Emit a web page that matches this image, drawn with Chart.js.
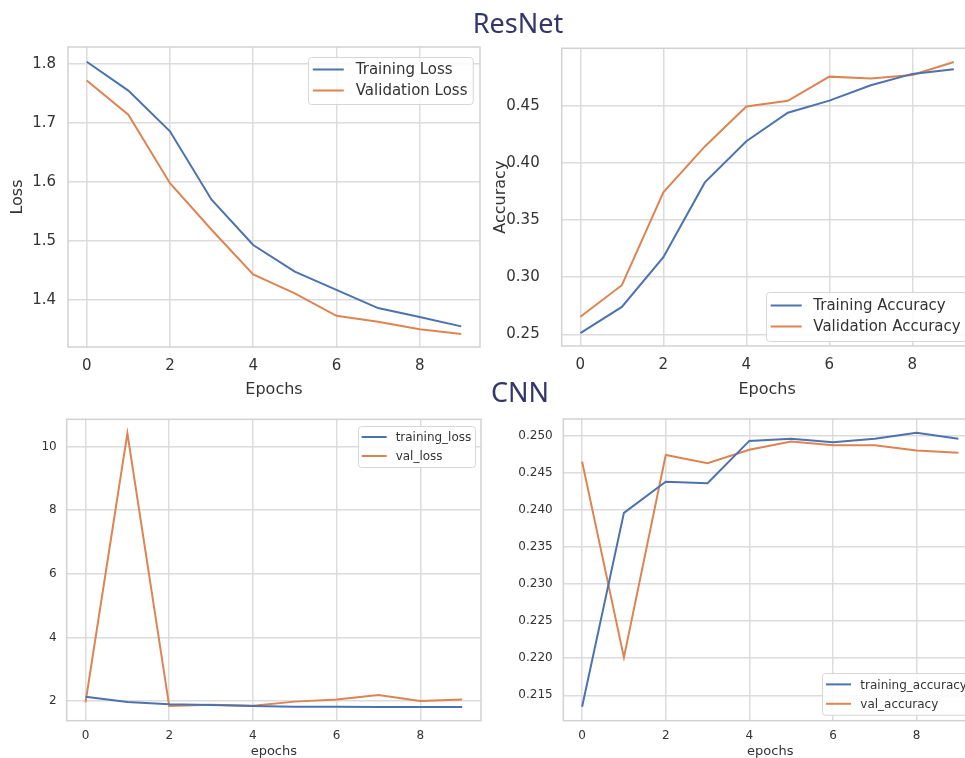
<!DOCTYPE html>
<html><head><meta charset="utf-8">
<script src="https://cdn.jsdelivr.net/npm/chart.js@4.4.0/dist/chart.umd.min.js"></script>
<style>
html,body{margin:0;padding:0;background:#fff;width:965px;height:758px;overflow:hidden;position:relative}
canvas{position:absolute}
.ttl{position:absolute;z-index:3;font-family:"Noto Sans",sans-serif;color:#33356b;font-size:27px;line-height:1;transform:translateX(-50%);white-space:nowrap}
</style></head><body>
<canvas id="c1"></canvas>
<canvas id="c2"></canvas>
<canvas id="c3"></canvas>
<canvas id="c4"></canvas>
<div class="ttl" style="left:518px;top:9px">ResNet</div>
<div class="ttl" style="left:520px;top:378px">CNN</div>
<script>
// ---------- data ----------
const epochs = [0,1,2,3,4,5,6,7,8,9];
const resnetTrainLoss = [1.804,1.755,1.686,1.570,1.493,1.448,1.417,1.386,1.371,1.355];
const resnetValLoss   = [1.772,1.714,1.598,1.519,1.443,1.411,1.373,1.363,1.350,1.342];
const resnetTrainAcc  = [0.251,0.274,0.3175,0.383,0.419,0.444,0.4546,0.468,0.478,0.482];
const resnetValAcc    = [0.2654,0.293,0.3744,0.4145,0.4494,0.4544,0.4756,0.4739,0.477,0.4884];
const cnnTrainLoss    = [2.13,1.97,1.90,1.87,1.84,1.82,1.82,1.81,1.81,1.81];
const cnnValLoss      = [1.96,10.42,1.84,1.88,1.85,1.98,2.05,2.19,2.00,2.05];
const cnnTrainAcc     = [0.21346,0.2396,0.2438,0.2436,0.2493,0.2496,0.2491,0.2496,0.2504,0.2496];
const cnnValAcc       = [0.2465,0.2201,0.2474,0.2463,0.2481,0.2492,0.2487,0.2487,0.2480,0.2477];

const xTicks = [0,2,4,6,8];
const resnetLossTicks = [1.4,1.5,1.6,1.7,1.8];
const resnetAccTicks = [0.25,0.30,0.35,0.40,0.45];
const cnnLossTicks = [2,4,6,8,10];
const cnnAccTicks = [0.215,0.220,0.225,0.230,0.235,0.240,0.245,0.250];

const resnetLossLabels = ['Training Loss','Validation Loss'];
const resnetAccLabels = ['Training Accuracy','Validation Accuracy'];
const cnnLossLabels = ['training_loss','val_loss'];
const cnnAccLabels = ['training_accuracy','val_accuracy'];

// ---------- style ----------
const BLUE = '#4c72b0', ORANGE = '#dd8452';
const GRID = '#dcdcdc', TXT = '#333333', FONT = '"DejaVu Sans", sans-serif';

const framePlugin = {
  id: 'frame',
  beforeDatasetsDraw(chart) {
    const {ctx, chartArea: a} = chart;
    ctx.save();
    ctx.strokeStyle = '#d2d2d2';
    ctx.lineWidth = 1.5;
    ctx.strokeRect(a.left, a.top, a.right - a.left, a.bottom - a.top);
    ctx.restore();
  }
};

const boxLegend = {
  id: 'boxLegend',
  afterDatasetsDraw(chart, args, o) {
    const {ctx, chartArea: a} = chart;
    const ds = chart.data.datasets;
    ctx.save();
    ctx.font = o.fontSize + 'px ' + FONT;
    const tw = Math.max(...ds.map(d => ctx.measureText(d.label).width));
    const w = o.padX * 2 + o.handle + o.gap + tw;
    const h = o.padY * 2 + ds.length * o.rowH;
    const x = (o.left !== undefined) ? a.left + o.left : a.right - o.inset - w;
    const y = o.corner === 'ur' ? a.top + o.insetY : a.bottom - o.insetY - h;
    ctx.beginPath();
    ctx.roundRect(Math.round(x) + 0.5, Math.round(y) + 0.5, w, h, 3);
    ctx.fillStyle = 'rgba(255,255,255,0.85)';
    ctx.fill();
    ctx.strokeStyle = '#d6d6d6';
    ctx.lineWidth = 1;
    ctx.stroke();
    ds.forEach((d, i) => {
      const cy = y + o.padY + o.rowH * (i + 0.5);
      ctx.beginPath();
      ctx.strokeStyle = d.borderColor;
      ctx.lineWidth = 2;
      ctx.moveTo(x + o.padX, cy);
      ctx.lineTo(x + o.padX + o.handle, cy);
      ctx.stroke();
      ctx.fillStyle = TXT;
      ctx.textBaseline = 'middle';
      ctx.textAlign = 'left';
      ctx.fillText(d.label, x + o.padX + o.handle + o.gap, cy + 1);
    });
    ctx.restore();
  }
};

function makeChart(id, pos, area, o) {
  const cv = document.getElementById(id);
  cv.width = pos.w; cv.height = pos.h;
  cv.style.left = pos.x + 'px'; cv.style.top = pos.y + 'px';
  cv.style.width = pos.w + 'px'; cv.style.height = pos.h + 'px';
  const mk = (label, vals, color) => ({
    label, data: epochs.map((e, i) => ({x: e, y: vals[i]})),
    borderColor: color, backgroundColor: color, borderWidth: 2,
    pointRadius: 0, tension: 0, fill: false
  });
  return new Chart(cv, {
    type: 'line',
    data: {datasets: [mk(o.labels[0], o.series[0], BLUE), mk(o.labels[1], o.series[1], ORANGE)]},
    options: {
      responsive: false, animation: false, devicePixelRatio: 1,
      layout: {padding: {left: 0, top: area.t - pos.y, right: pos.x + pos.w - area.r, bottom: 0}},
      plugins: {legend: {display: false}, tooltip: {enabled: false}, boxLegend: o.legend},
      scales: {
        x: {
          type: 'linear', min: -0.45, max: 9.45,
          afterBuildTicks: s => { s.ticks = xTicks.map(v => ({value: v})); },
          afterFit: s => { s.height = pos.y + pos.h - area.b; s.paddingLeft = 0; s.paddingRight = 0; },
          grid: {color: GRID, lineWidth: 1.5, drawTicks: false},
          border: {display: false},
          ticks: {padding: o.xPad, color: TXT, font: {family: FONT, size: o.fs}, maxRotation: 0, callback: v => String(v)},
          title: {display: true, text: o.xTitle, color: TXT, font: {family: FONT, size: o.tfs}, padding: {top: 0, bottom: o.xTitlePad}}
        },
        y: {
          type: 'linear', min: o.yMin, max: o.yMax,
          afterBuildTicks: s => { s.ticks = o.yTicks.map(v => ({value: v})); },
          afterFit: s => { s.width = area.l - pos.x; s.paddingTop = 0; s.paddingBottom = 0; },
          grid: {color: GRID, lineWidth: 1.5, drawTicks: false},
          border: {display: false},
          ticks: {padding: o.yPad, color: TXT, font: {family: FONT, size: o.fs}, callback: v => v.toFixed(o.dec)},
          title: {display: !!o.yTitle, text: o.yTitle || '', color: TXT, font: {family: FONT, size: o.tfs}, padding: {top: o.yTitlePad, bottom: 0}}
        }
      }
    },
    plugins: [framePlugin, boxLegend]
  });
}

makeChart('c1', {x: 0, y: 40, w: 490, h: 360}, {l: 68, t: 47, r: 480, b: 347}, {
  labels: resnetLossLabels, series: [resnetTrainLoss, resnetValLoss],
  yMin: 1.320, yMax: 1.829, yTicks: resnetLossTicks, dec: 1,
  fs: 15, tfs: 16, xPad: 10, yPad: 12, xTitle: 'Epochs', xTitlePad: 1, yTitle: 'Loss', yTitlePad: 8,
  legend: {corner: 'ur', inset: 7.5, insetY: 9.5, padX: 5, padY: 2.5, handle: 31, gap: 12, rowH: 21, fontSize: 15}
});
makeChart('c2', {x: 485, y: 40, w: 495, h: 360}, {l: 561.7, t: 48.3, r: 972.5, b: 346}, {
  labels: resnetAccLabels, series: [resnetTrainAcc, resnetValAcc],
  yMin: 0.2398, yMax: 0.5004, yTicks: resnetAccTicks, dec: 2,
  fs: 15, tfs: 16, xPad: 10, yPad: 22, xTitle: 'Epochs', xTitlePad: 1, yTitle: 'Accuracy', yTitlePad: 6,
  legend: {corner: 'lr', left: 204.3, insetY: 5.5, padX: 4.7, padY: 3.5, handle: 31, gap: 11.6, rowH: 21, fontSize: 15}
});
makeChart('c3', {x: 0, y: 400, w: 490, h: 370}, {l: 66.7, t: 419.3, r: 481, b: 720.7}, {
  labels: cnnLossLabels, series: [cnnTrainLoss, cnnValLoss],
  yMin: 1.38, yMax: 10.86, yTicks: cnnLossTicks, dec: 0,
  fs: 12, tfs: 13, xPad: 8, yPad: 10, xTitle: 'epochs', xTitlePad: 10.5, yTitle: '', yTitlePad: 0,
  legend: {corner: 'ur', inset: 6, insetY: 6.7, padX: 3.7, padY: 1.5, handle: 25, gap: 9, rowH: 19, fontSize: 12}
});
makeChart('c4', {x: 485, y: 400, w: 495, h: 370}, {l: 563.3, t: 419, r: 977.2, b: 720.7}, {
  labels: cnnAccLabels, series: [cnnTrainAcc, cnnValAcc],
  yMin: 0.21158, yMax: 0.25225, yTicks: cnnAccTicks, dec: 3,
  fs: 12, tfs: 13, xPad: 8, yPad: 10.6, xTitle: 'epochs', xTitlePad: 10.5, yTitle: '', yTitlePad: 0,
  legend: {corner: 'lr', left: 258.4, insetY: 5.7, padX: 4.3, padY: 1.5, handle: 25, gap: 9.3, rowH: 19.4, fontSize: 12}
});
</script>
</body></html>
